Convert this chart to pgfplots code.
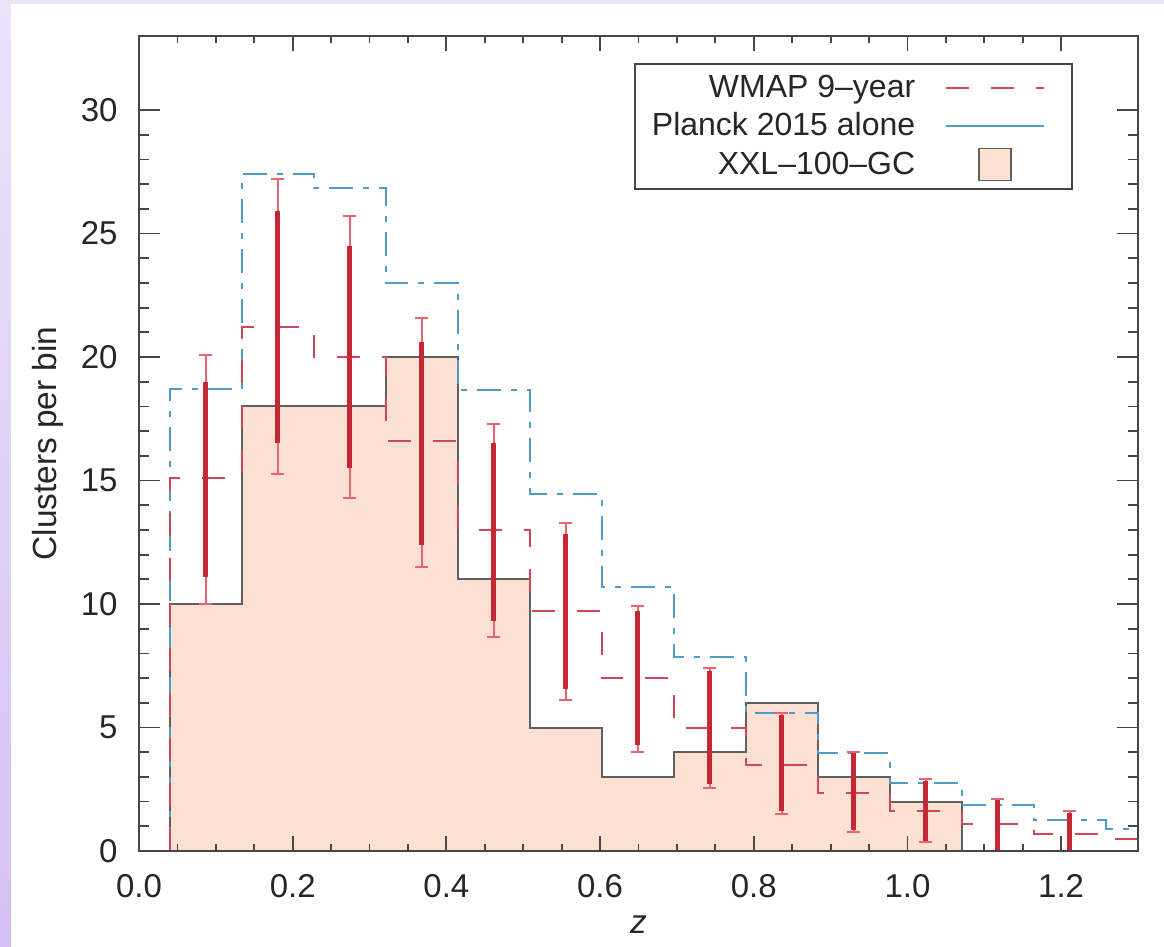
\documentclass[border=0pt]{standalone}
\usepackage{fontspec}
\setmainfont{Liberation Sans}
\usepackage{pgfplots}
\usepackage{pgfplotstable}
\pgfplotsset{compat=1.18}
\definecolor{wmap}{RGB}{208,72,85}
\definecolor{planck}{RGB}{80,155,200}
\definecolor{errdark}{RGB}{196,40,52}
\definecolor{errlight}{RGB}{232,100,112}
\definecolor{peach}{RGB}{252,225,210}
\definecolor{axgray}{RGB}{70,70,70}
\definecolor{histgray}{RGB}{95,95,95}
\definecolor{lav}{RGB}{214,192,244}
\definecolor{lavtop}{RGB}{236,226,250}

\pgfplotsset{
  wmaplegend/.style={legend image code/.code={\draw[wmap, line width=1pt, dash pattern=on 11.5pt off 11pt] (0pt,0pt) -- (49pt,0pt); \path[draw=none] (0pt,-2pt) -- (54.5pt,8pt);}},
  planckleg/.style={legend image code/.code={\draw[planck, line width=1pt, solid] (0pt,0pt) -- (49pt,0pt); \path[draw=none] (0pt,0pt) -- (54.5pt,0pt);}},
  xxllegend/.style={legend image code/.code={\draw[fill=peach, draw=histgray, line width=0.8pt] (16.5pt,-8pt) rectangle (32.5pt,8pt); \path[draw=none] (0pt,0pt) -- (54.5pt,0pt);}},
}

\pgfplotstableread{
x y op om ip im
0.0869 15.1 5.0 5.1 3.9 4.0
0.1806 21.2 6.0 5.95 4.7 4.7
0.2743 20.0 5.7 5.7 4.5 4.5
0.3680 16.6 5.0 5.1 4.0 4.2
0.4617 13.0 4.3 4.35 3.5 3.7
0.5554 9.7 3.6 3.6 3.15 3.15
0.6491 7.0 2.9 3.0 2.7 2.7
0.7428 5.0 2.4 2.45 2.3 2.3
0.8365 3.5 2.1 2.0 2.0 1.9
0.9302 2.35 1.65 1.6 1.6 1.5
1.0239 1.6 1.3 1.25 1.25 1.2
1.1176 1.1 1.0 1.1 0.95 1.1
1.2113 0.7 0.9 0.7 0.85 0.7
}\errtab

\begin{document}
\begin{tikzpicture}
\path[use as bounding box] (-69.5pt,-48pt) rectangle (512.5pt,425.5pt);
\fill[white] (-69.5pt,-48pt) rectangle (512.5pt,425.5pt);
\fill[lavtop] (-69.5pt,423.5pt) rectangle (512.5pt,425.5pt);
\shade[top color=lavtop, bottom color=lav] (-69.5pt,-48pt) rectangle (-64pt,425.5pt);
\begin{axis}[
  at={(0,0)}, anchor=south west,
  scale only axis, width=499.5pt, height=407.5pt,
  xmin=0, xmax=1.3, ymin=0, ymax=33,
  xtick={0,0.2,0.4,0.6,0.8,1.0,1.2},
  ytick={0,5,10,15,20,25,30},
  minor x tick num=3, minor y tick num=4,
  tick align=inside,
  axis on top,
  major tick length=10.5pt, minor tick length=5pt,
  xtick style={/pgfplots/major tick length=7.5pt, /pgfplots/minor tick length=3.5pt},
  every tick/.style={axgray, line width=0.9pt},
  axis line style={axgray, line width=1pt},
  /pgf/number format/assume math mode=true,
  xticklabel style={/pgf/number format/.cd, fixed, fixed zerofill, precision=1},
  tick label style={font=\fontsize{16.5}{19}\selectfont, inner sep=0pt, text=black!85},
  xticklabel shift=11.5pt, yticklabel shift=10.5pt,
  label style={font=\fontsize{16.7}{20}\selectfont, text=black!85},
  xlabel={\textit{z}},
  ylabel={Clusters per bin},
  xlabel style={at={(axis description cs:0.5,-0.0908)}, anchor=center},
  ylabel style={at={(axis description cs:-0.0911,0.5)}, anchor=center},
  legend plot pos=right,
  legend cell align=right,
  legend style={at={(0.935,0.9669)}, anchor=north east, draw=axgray, line width=0.8pt,
    font=\fontsize{16}{19}\selectfont, text=black!85, inner xsep=8.5pt, inner ysep=4pt,
    column sep=15pt, row sep=3pt, nodes={inner xsep=0pt, inner ysep=1.5pt}},
]
\addlegendimage{draw=none, wmaplegend}
\addlegendentry{WMAP 9–year}
\addlegendimage{draw=none, planckleg}
\addlegendentry{Planck 2015 alone}
\addlegendimage{draw=none, xxllegend}
\addlegendentry{XXL–100–GC}

% XXL-100-GC histogram
\addplot[const plot, fill=peach, draw=none, forget plot] coordinates {
(0.04,0) (0.04,10) (0.1337,18) (0.2274,18) (0.3211,20) (0.4148,11) (0.5085,5)
(0.6022,3) (0.6959,4) (0.7896,6) (0.8833,3) (0.977,2) (1.0707,0)} \closedcycle;
\addplot[const plot, draw=histgray, line width=1pt, forget plot] coordinates {
(0.04,0) (0.04,10) (0.1337,18) (0.2274,18) (0.3211,20) (0.4148,11) (0.5085,5)
(0.6022,3) (0.6959,4) (0.7896,6) (0.8833,3) (0.977,2) (1.0707,0)};

% Planck 2015
\addplot[const plot, draw=planck, line width=1pt, dash pattern=on 12pt off 5pt on 3pt off 5pt, forget plot] coordinates {
(0.04,0) (0.04,18.7) (0.1337,27.4) (0.2274,26.85) (0.3211,23.0) (0.4148,18.65) (0.5085,14.45)
(0.6022,10.7) (0.6959,7.85) (0.7896,5.6) (0.8833,3.95) (0.977,2.75) (1.0707,1.85)
(1.1644,1.25) (1.2581,0.9) (1.3518,0.9)};

% WMAP 9-year
\addplot[const plot, draw=wmap, line width=1pt, dash pattern=on 11.5pt off 11pt, forget plot] coordinates {
(0.04,0) (0.04,15.1) (0.1337,21.2) (0.2274,20.0) (0.3211,16.6) (0.4148,13.0) (0.5085,9.7)
(0.6022,7.0) (0.6959,5.0) (0.7896,3.5) (0.8833,2.35) (0.977,1.6) (1.0707,1.1)
(1.1644,0.7) (1.2581,0.5) (1.3518,0.5)};

% error bars: outer
\addplot[draw=none, mark=none, forget plot,
  error bars/.cd, y dir=both, y explicit,
  error bar style={draw=errlight, solid, line width=1pt},
  error mark options={draw=errlight, solid, rotate=90, mark size=3.25pt, line width=1pt}]
  table[x=x, y=y, y error plus=op, y error minus=om] {\errtab};
% error bars: inner
\addplot[draw=none, mark=none, forget plot,
  error bars/.cd, y dir=both, y explicit, error mark=none,
  error bar style={draw=errdark, solid, line width=2.5pt}]
  table[x=x, y=y, y error plus=ip, y error minus=im] {\errtab};
\end{axis}
\end{tikzpicture}
\end{document}
